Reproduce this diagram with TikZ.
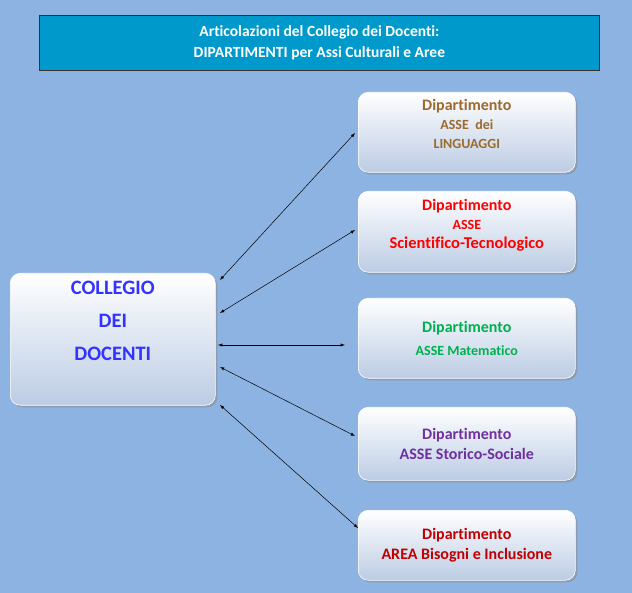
\documentclass[tikz,border=0pt]{standalone}
\usepackage{fontspec}
\setmainfont[Ligatures={NoCommon,NoContextual,NoRequired}]{Carlito}
\usetikzlibrary{shadows}
\definecolor{bg}{HTML}{8DB3E2}
\definecolor{ttl}{HTML}{0099CC}
\definecolor{cbrown}{HTML}{9C6A2E}
\definecolor{cgreen}{HTML}{00B050}
\definecolor{cpurple}{HTML}{7030A0}
\definecolor{cdred}{HTML}{C00000}
\definecolor{cblue}{HTML}{3333FF}
\definecolor{boxbot}{HTML}{BCCCE4}
\tikzset{
 dept/.style={rounded corners=10pt, top color=white, bottom color=boxbot, draw=white, line width=0.6pt,
   drop shadow={shadow xshift=2pt,shadow yshift=-2pt,fill=black!45,opacity=0.6},
   align=center, anchor=north west},
 arr/.style={<->, >=latex, line width=0.5pt}
}
\begin{document}
\begin{tikzpicture}[x=1pt,y=-1pt]
\fill[bg] (0,0) rectangle (632,593);
\useasboundingbox (0,0) rectangle (632,593);
\node[anchor=north west, fill=ttl, draw=black!80, line width=0.8pt, minimum width=560pt, minimum height=55pt, inner sep=0pt,
  text=white, font=\bfseries\fontsize{15.5}{21}\selectfont, align=center] (t) at (39,15)
  {Articolazioni del Collegio dei Docenti:\\DIPARTIMENTI per Assi Culturali e Aree};
\node[dept, minimum width=205pt, minimum height=132pt, text=cblue, font=\bfseries\fontsize{20.5}{33}\selectfont] (c) at (10,273) {COLLEGIO\\DEI\\DOCENTI\\[5pt]};
\node[dept, minimum width=217pt, minimum height=80pt, text=cbrown, font=\bfseries\fontsize{14}{19}\selectfont] (d1) at (358,92) {\fontsize{16}{19}\selectfont Dipartimento\\ASSE\ \ dei\\LINGUAGGI\\[-2pt]};
\node[dept, minimum width=217pt, minimum height=81pt, text=red, font=\bfseries\fontsize{14}{19}\selectfont] (d2) at (358,191) {\fontsize{16}{19}\selectfont Dipartimento\\ASSE\\\fontsize{16.5}{19}\selectfont Scientifico-Tecnologico\\[-4pt]};
\node[dept, minimum width=217pt, minimum height=80pt, text=cgreen, font=\bfseries\fontsize{14}{23}\selectfont] (d3) at (358,298) {\fontsize{16}{23}\selectfont Dipartimento\\ASSE Matematico};
\node[dept, minimum width=217pt, minimum height=73pt, text=cpurple, font=\bfseries\fontsize{16}{20}\selectfont] (d4) at (358,407) {Dipartimento\\ASSE Storico-Sociale};
\node[dept, minimum width=217pt, minimum height=70pt, text=cdred, font=\bfseries\fontsize{16}{20}\selectfont] (d5) at (358,510) {Dipartimento\\AREA Bisogni e Inclusione};
\coordinate (a1) at (355,133); \coordinate (a2) at (355,230); \coordinate (a3) at (345,345);
\coordinate (a4) at (355,436); \coordinate (a5) at (358,528);
\coordinate (b1) at (220,280); \coordinate (b2) at (220,313); \coordinate (b3) at (218,345);
\coordinate (b4) at (220,367); \coordinate (b5) at (220,405);
\draw[arr] (b1) -- (a1); \draw[arr] (b2) -- (a2); \draw[arr] (b3) -- (a3);
\draw[arr] (b4) -- (a4); \draw[arr] (b5) -- (a5);
\end{tikzpicture}
\end{document}
